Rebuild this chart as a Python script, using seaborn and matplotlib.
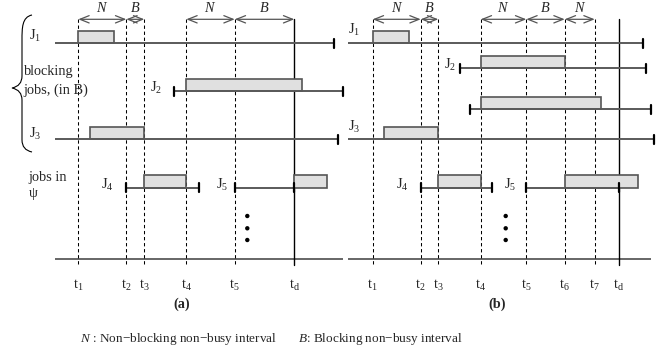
import matplotlib
matplotlib.use("Agg")
import matplotlib.pyplot as plt
from matplotlib.patches import Rectangle, PathPatch
from matplotlib.path import Path
import seaborn as sns
import pandas as pd

sns.set_theme(style="white")
plt.rcParams['font.family'] = ['Liberation Serif', 'DejaVu Serif']
plt.rcParams['mathtext.fontset'] = 'custom'
plt.rcParams['mathtext.rm'] = 'Liberation Serif'
plt.rcParams['mathtext.it'] = 'Liberation Serif:italic'
plt.rcParams['mathtext.bf'] = 'Liberation Serif:bold'
plt.rcParams['mathtext.default'] = 'rm'

# ---------------- data (diagram coordinates) ----------------
# time instants (x) and their subscripts
times_a = [78.3, 126.3, 144.3, 186.3, 234.7, 294.3]
time_lbl_a = ['1', '2', '3', '4', '5', 'd']
times_b = [372.7, 420.7, 438.3, 480.7, 526.3, 564.7, 594.7, 618.7]
time_lbl_b = ['1', '2', '3', '4', '5', '6', '7', 'd']

# non-busy intervals on top (start, end, kind)
intervals_a = [(78.3, 126.3, 'N'), (126.3, 144.3, 'B'), (186.3, 234.7, 'N'), (234.7, 294.3, 'B')]
intervals_b = [(372.7, 420.7, 'N'), (420.7, 438.3, 'B'), (480.7, 526.3, 'N'),
               (526.3, 564.7, 'B'), (564.7, 594.7, 'N')]

# jobs: row y, line start, line end, start tick, end tick, bar start, bar end, label, label x, label y
job_rows = [43.3, 91.0, 139.3, 187.7, 187.7,
            43.3, 68.3, 109.3, 139.3, 187.7, 187.7]
job_line_start = [55, 174.3, 55, 126.3, 234.7,
                  348.3, 460, 470, 348.3, 420.7, 526.3]
job_line_end = [334.3, 343.3, 337.7, 198.7, 294.3,
                642.7, 646, 651, 654.3, 492.3, 618.7]
job_start_tick = [False, True, False, True, True,
                  False, True, True, False, True, True]
job_end_tick = [True, True, True, True, True,
                True, True, True, True, True, True]
job_bar_start = [78.3, 186.3, 90.3, 144.3, 294.3,
                 372.7, 480.7, 480.7, 384.3, 438.3, 564.7]
job_bar_end = [114.3, 302.3, 144.3, 186.3, 326.7,
               408.7, 564.7, 600.7, 438.3, 480.7, 638.3]
job_labels = ['J$_1$', 'J$_2$', 'J$_3$', 'J$_4$', 'J$_5$',
              'J$_1$', 'J$_2$', '', 'J$_3$', 'J$_4$', 'J$_5$']
job_label_x = [35, 156, 35, 107, 222, 354, 450, 0, 354, 402, 510]
job_label_y = [36, 88, 134, 185, 185, 30, 65, 0, 127, 185, 185]

dots_x = [247.3, 247.3, 247.3, 505.7, 505.7, 505.7]
dots_y = [216, 228.3, 240, 216, 228.3, 240]

# ---------------- drawing ----------------
fig = plt.figure(figsize=(6.67, 3.54), dpi=100)
ax = fig.add_axes([0, 0, 1, 1])
ax.set_xlim(0, 667)
ax.set_ylim(354, 0)
ax.axis('off')

LINE = '#5a5a5a'
FILL = '#e0e0e0'
FS = 10.3
top_y, bot_y, base_y = 19.3, 265, 259.3

# base lines
ax.plot([55, 343.3], [base_y, base_y], color=LINE, lw=1.3, solid_capstyle='butt')
ax.plot([348.3, 651], [base_y, base_y], color=LINE, lw=1.3, solid_capstyle='butt')

# vertical time lines
for times, lbls in [(times_a, time_lbl_a), (times_b, time_lbl_b)]:
    for x, l in zip(times, lbls):
        if l == 'd':
            ax.plot([x, x], [top_y, bot_y], color='black', lw=1.0)
        else:
            ax.plot([x, x], [top_y, bot_y], color='black', lw=0.75,
                    linestyle=(0, (3.2, 2.6)))
        ax.text(x, 285, 't$_{%s}$' % l, ha='center', va='center', fontsize=FS)

# interval arrows
for ivs in [intervals_a, intervals_b]:
    for s, e, k in ivs:
        ax.annotate('', xy=(s, top_y), xytext=(e, top_y),
                    arrowprops=dict(arrowstyle='<->,head_length=0.55,head_width=0.22',
                                    color='#555555', lw=0.9,
                                    shrinkA=0, shrinkB=0))
        ax.text((s + e) / 2, 8.5, '$\\mathit{%s}$' % k, ha='center', va='center',
                fontsize=FS)

# jobs
for i in range(len(job_rows)):
    y = job_rows[i]
    ax.add_patch(Rectangle((job_bar_start[i], y - 12.4),
                           job_bar_end[i] - job_bar_start[i], 12.4,
                           facecolor=FILL, edgecolor='#555555', lw=1.2, zorder=2))
    ax.plot([job_line_start[i], job_line_end[i]], [y, y], color=LINE, lw=1.4,
            solid_capstyle='butt', zorder=3)
    if job_start_tick[i]:
        ax.plot([job_line_start[i]] * 2, [y - 4.5, y + 4.5], color='black', lw=1.6, zorder=4)
    if job_end_tick[i]:
        ax.plot([job_line_end[i]] * 2, [y - 4.5, y + 4.5], color='black', lw=1.6, zorder=4)
    if job_labels[i]:
        ax.text(job_label_x[i], job_label_y[i], job_labels[i], ha='center', va='center',
                fontsize=FS)

# continuation dots
sns.scatterplot(x=dots_x, y=dots_y, ax=ax, color='black', s=10, edgecolor='none',
                legend=False, zorder=5)

# group labels
ax.text(24, 71, 'blocking', ha='left', va='center', fontsize=FS)
ax.text(23, 90, 'jobs, (in B)', ha='left', va='center', fontsize=FS)
ax.text(28, 177.5, 'jobs in', ha='left', va='center', fontsize=FS)
ax.text(29, 193, 'ψ', ha='left', va='center', fontsize=FS)

# curly brace
verts = [(32, 15), (22, 17), (22, 28), (22, 40),
         (22, 76), (22, 86), (12, 88),
         (22, 90), (22, 100), (22, 112),
         (22, 140), (22, 150), (32, 152)]
codes = [Path.MOVETO, Path.CURVE4, Path.CURVE4, Path.LINETO,
         Path.LINETO, Path.CURVE3, Path.CURVE3,
         Path.CURVE3, Path.CURVE3, Path.LINETO,
         Path.LINETO, Path.CURVE3, Path.CURVE3]
ax.add_patch(PathPatch(Path(verts, codes), facecolor='none', edgecolor='black', lw=0.8))

# panel captions
ax.text(181.7, 304, '(a)', ha='center', va='center', fontsize=FS, fontweight='bold')
ax.text(496.7, 304, '(b)', ha='center', va='center', fontsize=FS, fontweight='bold')

# legend text
ax.text(80, 339, '$\\mathit{N}$ : Non\u2212blocking non\u2212busy interval', ha='left',
        va='center', fontsize=9.5)
ax.text(298, 339, '$\\mathit{B}$: Blocking non\u2212busy interval', ha='left',
        va='center', fontsize=9.5)

fig.savefig('out.png', dpi=100)
